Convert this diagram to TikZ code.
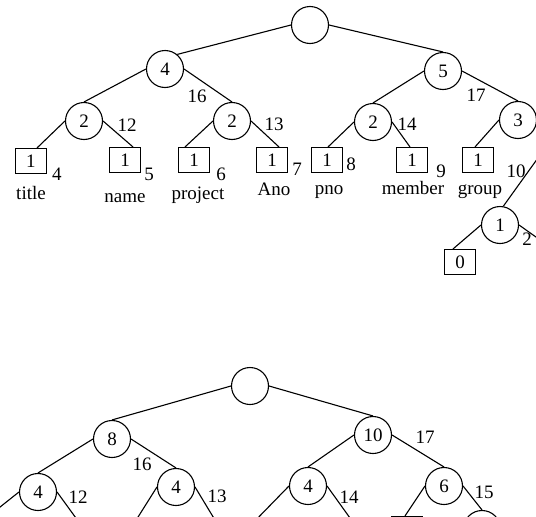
\documentclass[tikz,border=0pt]{standalone}
\usepackage{fontspec}
\setmainfont{Liberation Serif}
\begin{document}
\begin{tikzpicture}[x=1pt,y=-1pt,
  every node/.style={font=\fontsize{19}{22}\selectfont},
  cnode/.style={circle,draw,line width=1.1pt,minimum size=37pt,inner sep=0pt},
  bnode/.style={rectangle,draw,line width=1.1pt,minimum width=31pt,minimum height=25pt,inner sep=0pt},
  lbl/.style={anchor=base,inner sep=0pt},
  link/.style={line width=1.1pt}]
\useasboundingbox (0,0) rectangle (536,517);
\clip (0,0) rectangle (536,517);

% ---------- upper tree ----------
\node[cnode] (T0) at (310,25) {};
\node[cnode] (T4) at (165,69) {4};
\node[cnode] (T5) at (443,71) {5};
\node[cnode] (T2a) at (84,121) {2};
\node[cnode] (T2b) at (232,121) {2};
\node[cnode] (T2c) at (373,122) {2};
\node[cnode] (T3) at (518,120) {3};
\node[cnode] (T1) at (500,225) {1};

\node[bnode] (Btitle) at (31,161) {1};
\node[bnode] (Bname) at (125,160) {1};
\node[bnode] (Bproj) at (194,160) {1};
\node[bnode] (Bano) at (272,160) {1};
\node[bnode] (Bpno) at (327,160) {1};
\node[bnode] (Bmem) at (412,160) {1};
\node[bnode] (Bgrp) at (478,160) {1};
\node[bnode] (Bzero) at (460,262) {0};

\coordinate (X1) at (548,144);
\coordinate (X2) at (550,247);

\draw[link] (T0.west) -- (T4.50);
\draw[link] (T0.east) -- (T5.north);
\draw[link] (T4.west) -- (T2a.north);
\draw[link] (T4.east) -- (T2b.north);
\draw[link] (T5.west) -- (T2c.north);
\draw[link] (T5.east) -- (T3.north);
\draw[link] (T2a.west) -- ([xshift=6pt]Btitle.north);
\draw[link] (T2a.east) -- ([xshift=8pt]Bname.north);
\draw[link] (T2b.west) -- ([xshift=-9pt]Bproj.north);
\draw[link] (T2b.east) -- ([xshift=7pt]Bano.north);
\draw[link] (T2c.west) -- ([xshift=1pt]Bpno.north);
\draw[link] (T2c.east) -- ([xshift=-2pt]Bmem.north);
\draw[link] (T3.west) -- ([xshift=-3pt]Bgrp.north);
\draw[link] (X1) -- (T1.80);
\draw[link] (T1.west) -- ([xshift=-7pt]Bzero.north);
\draw[link] (T1.east) -- (X2);

\node[lbl] (l16a) at (197,102) {16};
\node[lbl] (l12a) at (127,131) {12};
\node[lbl] (l13a) at (274,130) {13};
\node[lbl] (l14a) at (407,130) {14};
\node[lbl] (l17a) at (476,101) {17};
\node[lbl] (l2a) at (527,245) {2};

\node[lbl] (s4) at (57,180) {4};
\node[lbl] (s5) at (149,180) {5};
\node[lbl] (s6) at (221,180) {6};
\node[lbl] (s7) at (297,175) {7};
\node[lbl] (s8) at (351,170) {8};
\node[lbl] (s9) at (441,177) {9};
\node[lbl] (s10) at (516,177) {10};

\node[lbl] (wtitle) at (31,199) {title};
\node[lbl] (wname) at (125,202) {name};
\node[lbl] (wproj) at (198,199) {project};
\node[lbl] (wano) at (274,195) {Ano};
\node[lbl] (wpno) at (329,194) {pno};
\node[lbl] (wmem) at (413,194) {member};
\node[lbl] (wgrp) at (480,194) {group};

% ---------- lower tree ----------
\node[cnode] (R) at (250,386) {};
\node[cnode] (R8) at (112,439) {8};
\node[cnode] (R10) at (373,435) {10};
\node[cnode] (R4a) at (38,492) {4};
\node[cnode] (R4b) at (176,487) {4};
\node[cnode] (R4c) at (308,486) {4};
\node[cnode] (R6) at (444,486) {6};
\node[bnode] (Rbox) at (407,529) {};
\node[cnode] (Rc) at (482,529) {};

\coordinate (Y1) at (-10,515);
\coordinate (Y2) at (81,525);
\coordinate (Y3) at (133,525);
\coordinate (Y4) at (218,525);
\coordinate (Y5) at (251,525);
\coordinate (Y6) at (355,525);

\draw[link] (R.west) -- (R8.north);
\draw[link] (R.east) -- (R10.north);
\draw[link] (R8.west) -- (R4a.north);
\draw[link] (R8.east) -- (R4b.north);
\draw[link] (R10.west) -- (R4c.north);
\draw[link] (R10.east) -- (R6.north);
\draw[link] (R4a.west) -- (Y1);
\draw[link] (R4a.east) -- (Y2);
\draw[link] (R4b.west) -- (Y3);
\draw[link] (R4b.east) -- (Y4);
\draw[link] (R4c.west) -- (Y5);
\draw[link] (R4c.east) -- (Y6);
\draw[link] (R6.west) -- ([xshift=-2pt]Rbox.north);
\draw[link] (R6.east) -- (Rc.north);

\node[lbl] (m16) at (142,470) {16};
\node[lbl] (m12) at (78,503) {12};
\node[lbl] (m13) at (217,502) {13};
\node[lbl] (m17) at (425,443) {17};
\node[lbl] (m14) at (349,503) {14};
\node[lbl] (m15) at (484,498) {15};
\end{tikzpicture}
\end{document}
